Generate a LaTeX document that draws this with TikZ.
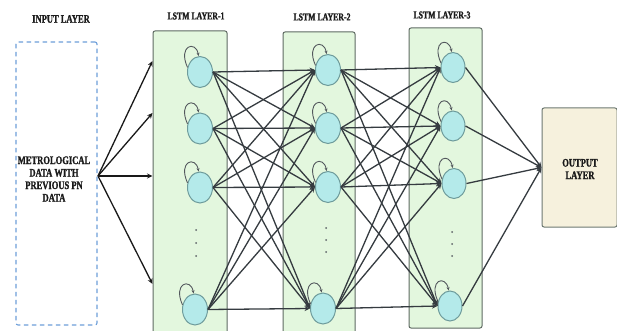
\documentclass[tikz,border=0pt]{standalone}
\usepackage{fontspec}
\setmainfont{Liberation Serif}[FakeStretch=0.74, BoldFont={Liberation Serif Bold}, BoldFeatures={FakeStretch=0.74, FakeBold=1.2}]
\usetikzlibrary{arrows.meta,shapes.geometric}
\definecolor{boxgreen}{HTML}{E3F7DE}
\definecolor{boxedge}{HTML}{5E6A62}
\definecolor{nodefill}{HTML}{B4EAEA}
\definecolor{nodeedge}{HTML}{6F9C9C}
\definecolor{outfill}{HTML}{F6F1DD}
\definecolor{dashblue}{HTML}{6E9FDA}
\definecolor{linecol}{HTML}{353B40}
\definecolor{txt}{HTML}{1A1A1A}
\tikzset{
  layerbox/.style={draw=boxedge, fill=boxgreen, line width=1pt, rounded corners=2pt, inner sep=0pt},
  neuron/.style={ellipse, draw=nodeedge, fill=nodefill, line width=1pt, minimum width=25pt, minimum height=31pt, inner sep=0pt},
  conn/.style={draw=linecol, line width=1.3pt, -{Stealth[length=5.5pt,width=5pt]}},
  inarrow/.style={draw=black!90, line width=1.3pt, -{Stealth[length=5.5pt,width=5pt]}},
  selfloop/.style={draw=linecol!85, line width=0.9pt, -{Stealth[length=3.5pt,width=3pt]}},
  title/.style={font=\bfseries\fontsize{10.5}{11}\selectfont, text=txt, inner sep=0pt},
  bigtitle/.style={font=\bfseries\fontsize{11.5}{12}\selectfont, text=txt, inner sep=0pt},
  bodytxt/.style={font=\bfseries\fontsize{11.5}{12.5}\selectfont, text=txt, align=center, inner sep=0pt},
  dotmark/.style={circle, fill=linecol!80, inner sep=0pt, minimum size=2pt}
}
\begin{document}
\begin{tikzpicture}[x=1pt, y=-1pt]
\useasboundingbox (0,0) rectangle (617,331);
\clip (0,0) rectangle (617,331);
\fill[white] (0,0) rectangle (617,331);

% titles
\node[bigtitle] (tin) at (61,19) {INPUT LAYER};
\node[title] (t1) at (196,16) {LSTM LAYER-1};
\node[title] (t2) at (322,17) {LSTM LAYER-2};
\node[title] (t3) at (442,15) {LSTM LAYER-3};

% input box
\node[draw=dashblue, line width=1.1pt, dash pattern=on 4.5pt off 3.5pt, rounded corners=2pt,
      minimum width=81pt, minimum height=283pt, inner sep=0pt] (inbox) at (56.5,183.5) {};
\node[bodytxt] (intext) at (54,179) {METROLOGICAL\\DATA WITH\\PREVIOUS PN\\DATA};
\coordinate (src) at (98,176);

% layer boxes
\node[layerbox, minimum width=74pt, minimum height=310pt] (L1) at (190,186) {};
\node[layerbox, minimum width=72pt, minimum height=310pt] (L2) at (319,187) {};
\node[layerbox, minimum width=73pt, minimum height=300pt] (L3) at (445.5,178) {};

% output box
\node[draw=boxedge!90, fill=outfill, line width=1pt, rounded corners=2pt,
      minimum width=75pt, minimum height=119pt, inner sep=0pt] (out) at (579.5,167.5) {};
\node[bodytxt] (outtext) at (580,169) {OUTPUT\\LAYER};

% neurons
\node[neuron] (a1) at (200,72) {};
\node[neuron] (a2) at (200,128.5) {};
\node[neuron] (a3) at (200,187.5) {};
\node[neuron] (a4) at (195,309.5) {};
\node[neuron] (b1) at (328,70) {};
\node[neuron] (b2) at (328,128) {};
\node[neuron] (b3) at (328,187) {};
\node[neuron] (b4) at (323,308.5) {};
\node[neuron, minimum width=24pt, minimum height=30pt] (c1) at (453,67.5) {};
\node[neuron, minimum width=24pt, minimum height=30pt] (c2) at (453,126) {};
\node[neuron, minimum width=24pt, minimum height=30pt] (c3) at (454,183.5) {};
\node[neuron, minimum width=24pt, minimum height=30pt] (c4) at (450,306) {};

% dots
\foreach \y [count=\k] in {230,243,256} \node[dotmark] (da\k) at (196,\y) {};
\foreach \y [count=\k] in {228,240,252} \node[dotmark] (db\k) at (326,\y) {};
\foreach \y [count=\k] in {232,244,256} \node[dotmark] (dc\k) at (452,\y) {};

% self loops
\foreach \n in {a1,a2,a3,a4,b1,b2,b3,b4,c1,c2,c3,c4}
  \draw[selfloop] (\n.160) .. controls +(-10,-22) and +(-3,-16) .. (\n.95);

% input arrows
\coordinate (e1) at (L1.west |- 0,61);
\coordinate (e2) at (L1.west |- 0,113);
\coordinate (e3) at (L1.west |- 0,176);
\coordinate (e4) at (L1.west |- 0,284);
\foreach \e in {e1,e2,e3,e4} \draw[inarrow] (src) -- (\e);

% full connections
\foreach \i in {1,2,3,4}
  \foreach \j in {1,2,3,4} {
    \draw[conn] (a\i.east) -- (b\j.west);
    \draw[conn] (b\i.east) -- (c\j.west);
  }
\foreach \i in {1,2,3,4}
  \draw[conn] (c\i.east) -- (out.west);
\end{tikzpicture}
\end{document}
